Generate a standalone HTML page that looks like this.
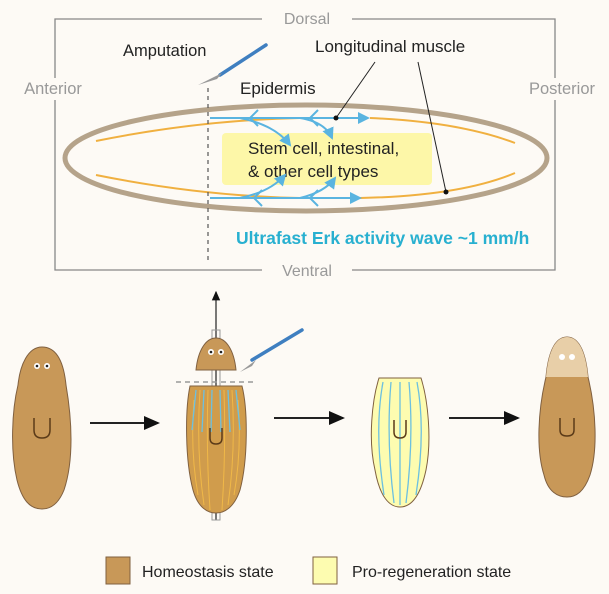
<!DOCTYPE html>
<html><head><style>
html,body{margin:0;padding:0;background:#fdfaf5;}
svg{display:block;font-family:"Liberation Sans",Arial,sans-serif;}
</style></head><body>
<svg width="609" height="594" viewBox="0 0 609 594">
<defs>
<marker id="ab" markerWidth="6" markerHeight="6" refX="5" refY="3" orient="auto"><path d="M0,0L6,3L0,6z" fill="#5ab4e0"/></marker>
<marker id="ak" markerWidth="8" markerHeight="8" refX="7" refY="4" orient="auto"><path d="M0,0.5L8,4L0,7.5z" fill="#111"/></marker>
</defs>
<rect width="609" height="594" fill="#fdfaf5"/>
<!-- box -->
<path d="M262,19 H55 V78 M55,100 V270 H262 M352,270 H555 V100 M555,78 V19 H352" fill="none" stroke="#888" stroke-width="1.3"/>
<text x="307" y="24" font-size="16" fill="#999" text-anchor="middle">Dorsal</text>
<text x="307" y="276" font-size="16" fill="#999" text-anchor="middle">Ventral</text>
<text x="53" y="94" font-size="16.5" fill="#999" text-anchor="middle">Anterior</text>
<text x="562" y="94" font-size="16.5" fill="#999" text-anchor="middle">Posterior</text>
<text x="123" y="56" font-size="16.5" fill="#222">Amputation</text>
<text x="315" y="52" font-size="17" fill="#222">Longitudinal muscle</text>
<text x="240" y="94" font-size="17" fill="#222">Epidermis</text>
<!-- knife -->
<line x1="220" y1="75" x2="266" y2="45" stroke="#3f7fc0" stroke-width="3.5" stroke-linecap="round"/>
<path d="M198,85 L222,73 L217,79 Z" fill="#999"/>
<!-- ellipse -->
<ellipse cx="306" cy="158" rx="241" ry="53" fill="none" stroke="#b5a38a" stroke-width="5"/>
<path d="M96,141 Q200,120 300,118" fill="none" stroke="#f0b040" stroke-width="2"/>
<path d="M370,118 Q460,122 515,143" fill="none" stroke="#f0b040" stroke-width="2"/>
<path d="M96,175 Q200,196 300,198" fill="none" stroke="#f0b040" stroke-width="2"/>
<path d="M360,198 Q460,196 515,173" fill="none" stroke="#f0b040" stroke-width="2"/>
<rect x="222" y="133" width="210" height="52" rx="4" fill="#fdf7a8"/>
<text x="248" y="154" font-size="17" fill="#222">Stem cell, intestinal,</text>
<text x="248" y="177" font-size="17" fill="#222">&amp; other cell types</text>
<!-- blue arrows -->
<g fill="none" stroke="#5ab4e0" stroke-width="2">
<line x1="210" y1="118" x2="368" y2="118" marker-end="url(#ab)"/>
<line x1="210" y1="198" x2="360" y2="198" marker-end="url(#ab)"/>
<path d="M240,118 Q275,125 290,145" marker-end="url(#ab)"/>
<path d="M300,118 Q325,122 332,138" marker-end="url(#ab)"/>
<path d="M240,198 Q270,192 285,175" marker-end="url(#ab)"/>
<path d="M300,198 Q325,192 335,178" marker-end="url(#ab)"/>
<path d="M258,110 L250,118 L258,126 M318,110 L310,118 L318,126 M262,190 L254,198 L262,206 M318,190 L310,198 L318,206"/>
</g>
<line x1="208" y1="88" x2="208" y2="262" stroke="#555" stroke-width="1.2" stroke-dasharray="4,4"/>
<line x1="375" y1="62" x2="336" y2="118" stroke="#222" stroke-width="1"/>
<line x1="418" y1="62" x2="446" y2="192" stroke="#222" stroke-width="1"/>
<circle cx="336" cy="118" r="2.5" fill="#111"/><circle cx="446" cy="192" r="2.5" fill="#111"/>
<text x="236" y="244" font-size="17.5" font-weight="bold" fill="#28b0d0">Ultrafast Erk activity wave  ~1 mm/h</text>
<!-- worm 1 -->
<path d="M42,347 C58,347 64,365 66,385 C72,420 74,460 64,490 C58,505 50,509 42,509 C30,509 22,500 17,480 C10,450 12,410 18,385 C20,365 28,347 42,347Z" fill="#c89858" stroke="#806040"/>
<circle cx="37" cy="366" r="3" fill="#fff"/><circle cx="47" cy="366" r="3" fill="#fff"/>
<circle cx="37" cy="366" r="1.3" fill="#222"/><circle cx="47" cy="366" r="1.3" fill="#222"/>
<path d="M34,418 V430 Q34,438 42,438 Q50,438 50,430 V418" fill="none" stroke="#5a3a18" stroke-width="1.5"/>
<line x1="90" y1="423" x2="158" y2="423" stroke="#222" stroke-width="2" marker-end="url(#ak)"/>
<!-- worm 2 -->
<line x1="216" y1="520" x2="216" y2="292" stroke="#222" stroke-width="1.2" marker-end="url(#ak)"/>
<rect x="212" y="330" width="8" height="190" fill="none" stroke="#999" stroke-width="1"/>
<path d="M196,370 C198,350 206,338 216,338 C226,338 234,350 236,370 Z" fill="#c89858" stroke="#806040"/>
<circle cx="211" cy="352" r="3" fill="#fff"/><circle cx="221" cy="352" r="3" fill="#fff"/>
<circle cx="211" cy="352" r="1.3" fill="#222"/><circle cx="221" cy="352" r="1.3" fill="#222"/>
<line x1="176" y1="382" x2="256" y2="382" stroke="#999" stroke-width="1.5" stroke-dasharray="5,4"/>
<path d="M190,386 H242 C248,410 248,460 240,490 C234,508 224,513 216,513 C208,513 198,508 193,490 C185,460 185,410 190,386Z" fill="#d09c4c" stroke="#806040"/>
<g stroke="#f0b848" stroke-width="1" fill="none">
<path d="M200,390 Q196,450 204,505 M208,390 Q206,450 210,510 M224,390 Q226,450 222,510 M232,390 Q236,450 228,505 M194,400 Q190,450 198,495 M238,400 Q242,450 234,495"/>
</g>
<g stroke="#6cc0e0" stroke-width="1.3" fill="none">
<path d="M196,390 L192,430 M204,390 L202,432 M212,390 L211,432 M220,390 L221,432 M228,390 L230,432 M236,390 L240,430"/>
</g>
<path d="M210,428 V438 Q210,444 216,444 Q222,444 222,438 V428" fill="none" stroke="#5a3a18" stroke-width="1.5"/>
<line x1="252" y1="360" x2="302" y2="330" stroke="#3f7fc0" stroke-width="3.5" stroke-linecap="round"/>
<path d="M240,372 L256,360 L252,366 Z" fill="#999"/>
<line x1="274" y1="418" x2="343" y2="418" stroke="#222" stroke-width="2" marker-end="url(#ak)"/>
<!-- worm 3 -->
<path d="M379,378 H421 C428,400 432,440 426,470 C420,498 410,507 400,507 C390,507 380,498 375,470 C368,440 372,400 379,378Z" fill="#fdfcb0" stroke="#806040"/>
<g stroke="#6cc0e0" stroke-width="1.3" fill="none">
<path d="M383,382 Q374,430 384,495 M391,382 Q386,440 394,503 M400,382 V505 M409,382 Q414,440 406,503 M417,382 Q426,430 416,495"/>
</g>
<path d="M394,420 V432 Q394,438 400,438 Q406,438 406,432 V420" fill="none" stroke="#5a3a18" stroke-width="1.5"/>
<line x1="449" y1="418" x2="518" y2="418" stroke="#222" stroke-width="2" marker-end="url(#ak)"/>
<!-- worm 4 -->
<path d="M567,337 C580,337 586,355 588,377 C596,410 598,450 590,475 C584,492 576,497 567,497 C558,497 548,492 544,475 C536,450 538,410 546,377 C548,355 554,337 567,337Z" fill="#c89858" stroke="#806040"/>
<path d="M546,377 C548,355 554,337 567,337 C580,337 586,355 588,377Z" fill="#e8cfa8"/>
<circle cx="562" cy="357" r="3" fill="#fff"/><circle cx="572" cy="357" r="3" fill="#fff"/>
<path d="M560,418 V430 Q560,436 567,436 Q574,436 574,430 V418" fill="none" stroke="#5a3a18" stroke-width="1.5"/>
<!-- legend -->
<rect x="106" y="557" width="24" height="27" fill="#c89858" stroke="#806040"/>
<text x="142" y="577" font-size="16" fill="#222">Homeostasis state</text>
<rect x="313" y="557" width="24" height="27" fill="#fdfcb0" stroke="#806040"/>
<text x="352" y="577" font-size="16" fill="#222">Pro-regeneration state</text>
</svg>
</body></html>
